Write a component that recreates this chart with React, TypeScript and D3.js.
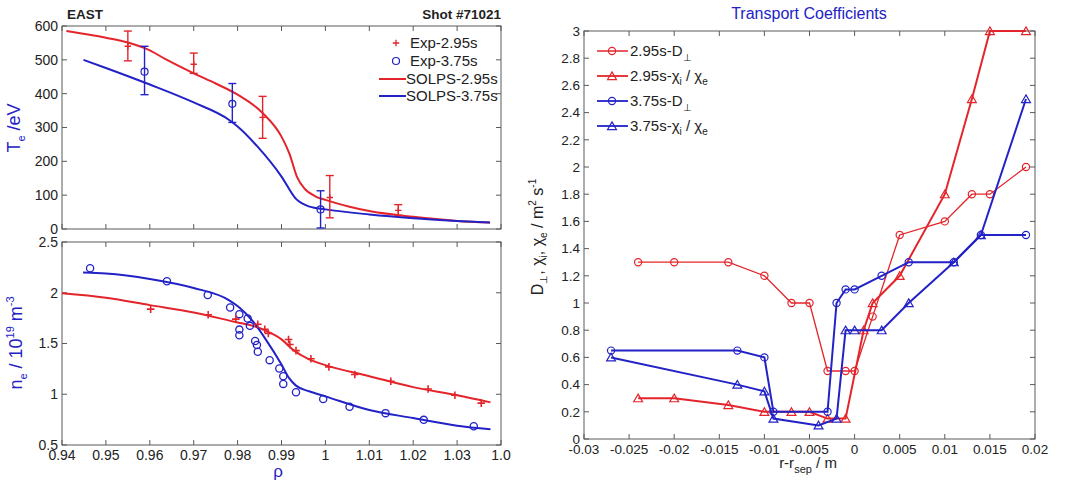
import React from "react";
import * as d3 from "d3";

const RED = "#e3252b";
const BLUE = "#2222c6";
const AXIS = "#5a5a5a";
const FONT = "'Liberation Sans', Arial, sans-serif";

// ---------- shared rho axis ----------
const rhoTicks = [0.94, 0.95, 0.96, 0.97, 0.98, 0.99, 1.0, 1.01, 1.02, 1.03, 1.04];
const rhoTickLabels = ["0.94", "0.95", "0.96", "0.97", "0.98", "0.99", "1", "1.01", "1.02", "1.03", "1.0"];

// ---------- Te panel ----------
const teTicks = [0, 100, 200, 300, 400, 500, 600];
const teTickLabels = ["0", "100", "200", "300", "400", "500", "600"];

const expTe295Rho = [0.955, 0.970, 0.9857, 1.001, 1.0166];
const expTe295 = [540, 487, 330, 93, 55];
const expTe295Lo = [497, 460, 268, 33, 40];
const expTe295Hi = [585, 520, 392, 158, 72];

const expTe375Rho = [0.9588, 0.9788, 0.9989];
const expTe375 = [465, 370, 58];
const expTe375Lo = [397, 315, 3];
const expTe375Hi = [540, 430, 113];

const solpsTe295Rho = [0.941, 0.95, 0.955, 0.96, 0.9637, 0.97, 0.975, 0.98, 0.9857, 0.99, 0.9918, 0.9935, 0.9952, 0.9978, 1.0, 1.0055, 1.01, 1.02, 1.03, 1.0375];
const solpsTe295 = [585, 565, 551, 528, 501, 460, 430, 397, 343, 273, 223, 155, 120, 96, 86, 66, 53, 36, 24, 19];

const solpsTe375Rho = [0.9449, 0.95, 0.96, 0.97, 0.978, 0.98, 0.9845, 0.99, 0.9933, 0.9964, 1.0, 1.01, 1.02, 1.03, 1.0375];
const solpsTe375 = [500, 476, 427, 374, 323, 303, 244, 155, 89, 66, 58, 43, 32, 24, 19];

// ---------- ne panel ----------
const neTicks = [0.5, 1, 1.5, 2, 2.5];
const neTickLabels = ["0.5", "1", "1.5", "2", "2.5"];

const expNe375Rho = [0.9464, 0.9639, 0.9732, 0.9783, 0.9804, 0.9804, 0.9804, 0.9823, 0.9828, 0.984, 0.9844, 0.9846, 0.9873, 0.9895, 0.9904, 0.9904, 0.9933, 0.9995, 1.0055, 1.0137, 1.0224, 1.0338];
const expNe375 = [2.242, 2.113, 1.978, 1.855, 1.789, 1.637, 1.581, 1.746, 1.674, 1.525, 1.485, 1.419, 1.336, 1.254, 1.178, 1.102, 1.019, 0.953, 0.877, 0.814, 0.748, 0.685];

const expNe295Rho = [0.9602, 0.9733, 0.9796, 0.9846, 0.9862, 0.987, 0.9916, 0.9919, 0.9933, 0.9967, 1.0008, 1.0067, 1.0149, 1.0234, 1.0295, 1.0355];
const expNe295 = [1.839, 1.783, 1.74, 1.69, 1.64, 1.60, 1.54, 1.49, 1.43, 1.35, 1.27, 1.194, 1.128, 1.052, 0.99, 0.913];

const solpsNe295Rho = [0.94, 0.95, 0.96, 0.97, 0.98, 0.9835, 0.9865, 0.99, 0.9925, 0.9963, 1.0, 1.01, 1.02, 1.03, 1.0376];
const solpsNe295 = [1.994, 1.95, 1.878, 1.806, 1.707, 1.674, 1.624, 1.541, 1.442, 1.343, 1.287, 1.178, 1.07, 0.99, 0.92];

const solpsNe375Rho = [0.9448, 0.95, 0.96, 0.97, 0.978, 0.9804, 0.9834, 0.9864, 0.99, 0.9917, 0.9933, 0.9963, 1.0, 1.01, 1.02, 1.03, 1.0376];
const solpsNe375 = [2.2, 2.19, 2.136, 2.047, 1.928, 1.855, 1.723, 1.541, 1.293, 1.161, 1.085, 1.029, 0.979, 0.845, 0.765, 0.69, 0.655];

// ---------- transport panel ----------
const drTicks = [-0.03, -0.025, -0.02, -0.015, -0.01, -0.005, 0, 0.005, 0.01, 0.015, 0.02];
const drTickLabels = ["-0.03", "-0.025", "-0.02", "-0.015", "-0.01", "-0.005", "0", "0.005", "0.01", "0.015", "0.02"];
const coefTicks = [0, 0.2, 0.4, 0.6, 0.8, 1, 1.2, 1.4, 1.6, 1.8, 2, 2.2, 2.4, 2.6, 2.8, 3];
const coefTickLabels = ["0", "0.2", "0.4", "0.6", "0.8", "1", "1.2", "1.4", "1.6", "1.8", "2", "2.2", "2.4", "2.6", "2.8", "3"];

const d295X = [-0.024, -0.02, -0.014, -0.01, -0.007, -0.005, -0.003, -0.001, 0, 0.002, 0.005, 0.01, 0.013, 0.015, 0.019];
const d295Y = [1.3, 1.3, 1.3, 1.2, 1.0, 1.0, 0.5, 0.5, 0.5, 0.9, 1.5, 1.6, 1.8, 1.8, 2.0];

const chi295X = [-0.024, -0.02, -0.014, -0.01, -0.007, -0.005, -0.003, -0.001, 0.001, 0.002, 0.005, 0.01, 0.013, 0.015, 0.019];
const chi295Y = [0.3, 0.3, 0.25, 0.2, 0.2, 0.2, 0.15, 0.15, 0.8, 1.0, 1.2, 1.8, 2.5, 3.0, 3.0];

const d375X = [-0.027, -0.013, -0.01, -0.009, -0.003, -0.002, -0.001, 0, 0.003, 0.006, 0.011, 0.014, 0.019];
const d375Y = [0.65, 0.65, 0.6, 0.2, 0.2, 1.0, 1.1, 1.1, 1.2, 1.3, 1.3, 1.5, 1.5];

const chi375X = [-0.027, -0.013, -0.01, -0.009, -0.004, -0.002, -0.001, 0, 0.003, 0.006, 0.011, 0.014, 0.019];
const chi375Y = [0.6, 0.4, 0.35, 0.15, 0.1, 0.15, 0.8, 0.8, 0.8, 1.0, 1.3, 1.5, 2.5];

// ---------- layout ----------
const TE = { left: 62, right: 501, top: 26, bottom: 229 };
const NE = { left: 62, right: 501, top: 242, bottom: 445 };
const TR = { left: 584, right: 1035, top: 31, bottom: 439 };

const zip = (xs: number[], ys: number[]) => xs.map((x, i) => [x, ys[i]] as [number, number]);

type Scale = d3.ScaleLinear<number, number>;

function Frame({ x, y, xTicks, yTicks, xLabels, yLabels, fs }: {
  x: Scale; y: Scale; xTicks: number[]; yTicks: number[]; xLabels?: string[]; yLabels?: string[]; fs: number;
}) {
  const [x0, x1] = x.range();
  const [y0, y1] = y.range(); // y0 bottom, y1 top
  const t = 5;
  return (
    <g>
      <rect x={x0} y={y1} width={x1 - x0} height={y0 - y1} fill="none" stroke={AXIS} strokeWidth={1} />
      {xTicks.map((v, i) => (
        <g key={"x" + i}>
          <line x1={x(v)} x2={x(v)} y1={y0} y2={y0 - t} stroke={AXIS} />
          <line x1={x(v)} x2={x(v)} y1={y1} y2={y1 + t} stroke={AXIS} />
          {xLabels && (
            <text x={x(v)} y={y0 + 15} textAnchor="middle" fontSize={fs} fill="#222">{xLabels[i]}</text>
          )}
        </g>
      ))}
      {yTicks.map((v, i) => (
        <g key={"y" + i}>
          <line x1={x0} x2={x0 + t} y1={y(v)} y2={y(v)} stroke={AXIS} />
          <line x1={x1} x2={x1 - t} y1={y(v)} y2={y(v)} stroke={AXIS} />
          {yLabels && (
            <text x={x0 - 4} y={y(v) + fs * 0.35} textAnchor="end" fontSize={fs} fill="#222">{yLabels[i]}</text>
          )}
        </g>
      ))}
    </g>
  );
}

const plusPath = (cx: number, cy: number, s: number) => `M${cx - s},${cy}H${cx + s}M${cx},${cy - s}V${cy + s}`;
const triPath = d3.symbol(d3.symbolTriangle, 34);

export default function App() {
  const xRho1 = d3.scaleLinear().domain([0.94, 1.04]).range([TE.left, TE.right]);
  const yTe = d3.scaleLinear().domain([0, 600]).range([TE.bottom, TE.top]);
  const xRho2 = d3.scaleLinear().domain([0.94, 1.04]).range([NE.left, NE.right]);
  const yNe = d3.scaleLinear().domain([0.5, 2.5]).range([NE.bottom, NE.top]);
  const xDr = d3.scaleLinear().domain([-0.03, 0.02]).range([TR.left, TR.right]);
  const yC = d3.scaleLinear().domain([0, 3]).range([TR.bottom, TR.top]);

  const lineTe = d3.line<[number, number]>().x(d => xRho1(d[0])).y(d => yTe(d[1])).curve(d3.curveMonotoneX);
  const lineNe = d3.line<[number, number]>().x(d => xRho2(d[0])).y(d => yNe(d[1])).curve(d3.curveMonotoneX);
  const lineTr = d3.line<[number, number]>().x(d => xDr(d[0])).y(d => yC(d[1]));

  const errBars = (rho: number[], v: number[], lo: number[], hi: number[], color: string, marker: "plus" | "circle") =>
    rho.map((r, i) => {
      const cx = xRho1(r);
      return (
        <g key={color + i} stroke={color} fill="none" strokeWidth={1.4}>
          <line x1={cx} x2={cx} y1={yTe(lo[i])} y2={yTe(hi[i])} />
          <line x1={cx - 4} x2={cx + 4} y1={yTe(lo[i])} y2={yTe(lo[i])} />
          <line x1={cx - 4} x2={cx + 4} y1={yTe(hi[i])} y2={yTe(hi[i])} />
          {marker === "plus" ? (
            <path d={plusPath(cx, yTe(v[i]), 3.2)} />
          ) : (
            <circle cx={cx} cy={yTe(v[i])} r={3.5} strokeWidth={1.2} />
          )}
        </g>
      );
    });

  const trSeries = [
    { xs: d295X, ys: d295Y, color: RED, w: 1.3, m: "circle", label: "2.95s-D", kind: "D" },
    { xs: chi295X, ys: chi295Y, color: RED, w: 2, m: "tri", label: "2.95s-", kind: "chi" },
    { xs: d375X, ys: d375Y, color: BLUE, w: 2, m: "circle", label: "3.75s-D", kind: "D" },
    { xs: chi375X, ys: chi375Y, color: BLUE, w: 2, m: "tri", label: "3.75s-", kind: "chi" },
  ];

  const marker = (m: string, cx: number, cy: number, color: string, key: string) =>
    m === "circle" ? (
      <circle key={key} cx={cx} cy={cy} r={3.6} fill="none" stroke={color} strokeWidth={1.2} />
    ) : (
      <path key={key} d={triPath() as string} transform={`translate(${cx},${cy + 1})`} fill="none" stroke={color} strokeWidth={1.2} />
    );

  return (
    <svg width={1065} height={485} style={{ position: "absolute", left: 0, top: 0, background: "#fff" }} fontFamily={FONT}>
      <rect width={1065} height={485} fill="#fff" />

      {/* ---------------- Te panel ---------------- */}
      <text x={67} y={19} fontSize={13.5} fontWeight="bold" fill="#222">EAST</text>
      <text x={501} y={19} fontSize={13.5} fontWeight="bold" fill="#222" textAnchor="end">Shot #71021</text>
      <Frame x={xRho1} y={yTe} xTicks={rhoTicks} yTicks={teTicks} yLabels={teTickLabels} fs={14} />
      <path d={lineTe(zip(solpsTe295Rho, solpsTe295)) as string} fill="none" stroke={RED} strokeWidth={2} />
      <path d={lineTe(zip(solpsTe375Rho, solpsTe375)) as string} fill="none" stroke={BLUE} strokeWidth={2} />
      {errBars(expTe295Rho, expTe295, expTe295Lo, expTe295Hi, RED, "plus")}
      {errBars(expTe375Rho, expTe375, expTe375Lo, expTe375Hi, BLUE, "circle")}
      <text transform="translate(20,128) rotate(-90)" textAnchor="middle" fontSize={18} fill={BLUE}>
        T<tspan fontSize={11} dy={5}>e</tspan><tspan dy={-5}> /eV</tspan>
      </text>
      {/* legend */}
      <g fontSize={15} fill="#222">
        <path d={plusPath(396, 43, 3.2)} stroke={RED} strokeWidth={1.3} />
        <text x={410} y={48}>Exp-2.95s</text>
        <circle cx={396} cy={61} r={3.5} fill="none" stroke={BLUE} strokeWidth={1.2} />
        <text x={410} y={66}>Exp-3.75s</text>
        <line x1={379} x2={406} y1={79} y2={79} stroke={RED} strokeWidth={2} />
        <text x={406} y={84}>SOLPS-2.95s</text>
        <line x1={379} x2={406} y1={96} y2={96} stroke={BLUE} strokeWidth={2} />
        <text x={406} y={101}>SOLPS-3.75s</text>
      </g>

      {/* ---------------- ne panel ---------------- */}
      <Frame x={xRho2} y={yNe} xTicks={rhoTicks} yTicks={neTicks} xLabels={rhoTickLabels} yLabels={neTickLabels} fs={14} />
      <path d={lineNe(zip(solpsNe295Rho, solpsNe295)) as string} fill="none" stroke={RED} strokeWidth={2} />
      <path d={lineNe(zip(solpsNe375Rho, solpsNe375)) as string} fill="none" stroke={BLUE} strokeWidth={2} />
      {expNe375Rho.map((r, i) => (
        <circle key={"nb" + i} cx={xRho2(r)} cy={yNe(expNe375[i])} r={3.6} fill="none" stroke={BLUE} strokeWidth={1.3} />
      ))}
      {expNe295Rho.map((r, i) => (
        <path key={"nr" + i} d={plusPath(xRho2(r), yNe(expNe295[i]), 3.8)} stroke={RED} strokeWidth={1.6} />
      ))}
      <text transform="translate(22,343) rotate(-90)" textAnchor="middle" fontSize={18} fill={BLUE}>
        n<tspan fontSize={11} dy={5}>e</tspan><tspan dy={-5}> / 10</tspan><tspan fontSize={11} dy={-8}>19</tspan><tspan dy={8}> m</tspan><tspan fontSize={11} dy={-8}>-3</tspan>
      </text>
      <text x={278} y={477} textAnchor="middle" fontSize={17} fill={BLUE}>ρ</text>

      {/* ---------------- transport panel ---------------- */}
      <text x={809} y={19} textAnchor="middle" fontSize={16} fill={BLUE}>Transport Coefficients</text>
      <Frame x={xDr} y={yC} xTicks={drTicks} yTicks={coefTicks} xLabels={drTickLabels} yLabels={coefTickLabels} fs={13.5} />
      {trSeries.map((s, si) => (
        <g key={"tr" + si}>
          <path d={lineTr(zip(s.xs, s.ys)) as string} fill="none" stroke={s.color} strokeWidth={s.w} />
          {s.xs.map((xv, i) => marker(s.m, xDr(xv), yC(s.ys[i]), s.color, "m" + si + "-" + i))}
        </g>
      ))}
      {/* legend */}
      <g fontSize={15} fill="#222">
        {trSeries.map((s, i) => {
          const yy = 51 + i * 25;
          return (
            <g key={"lg" + i}>
              <line x1={597} x2={628} y1={yy} y2={yy} stroke={s.color} strokeWidth={s.w === 2 ? 1.8 : 1.5} />
              {marker(s.m, 612, yy, s.color, "lm" + i)}
              {s.kind === "D" ? (
                <text x={630} y={yy + 5}>{s.label}<tspan fontSize={10} dy={5}>⊥</tspan></text>
              ) : (
                <text x={630} y={yy + 5}>{s.label}χ<tspan fontSize={10} dy={4}>i</tspan><tspan dy={-4}> / χ</tspan><tspan fontSize={10} dy={4}>e</tspan></text>
              )}
            </g>
          );
        })}
      </g>
      <text transform="translate(543,237) rotate(-90)" textAnchor="middle" fontSize={16} fill="#222">
        D<tspan fontSize={10} dy={4}>⊥</tspan><tspan dy={-4}>, χ</tspan><tspan fontSize={10} dy={4}>i</tspan><tspan dy={-4}>, χ</tspan><tspan fontSize={10} dy={4}>e</tspan><tspan dy={-4}> / m</tspan><tspan fontSize={10} dy={-7}>2</tspan><tspan dy={7}> s</tspan><tspan fontSize={10} dy={-7}>-1</tspan>
      </text>
      <text x={808} y={468} textAnchor="middle" fontSize={15} fill="#222">
        r-r<tspan fontSize={11} dy={5}>sep</tspan><tspan dy={-5}> / m</tspan>
      </text>
    </svg>
  );
}
